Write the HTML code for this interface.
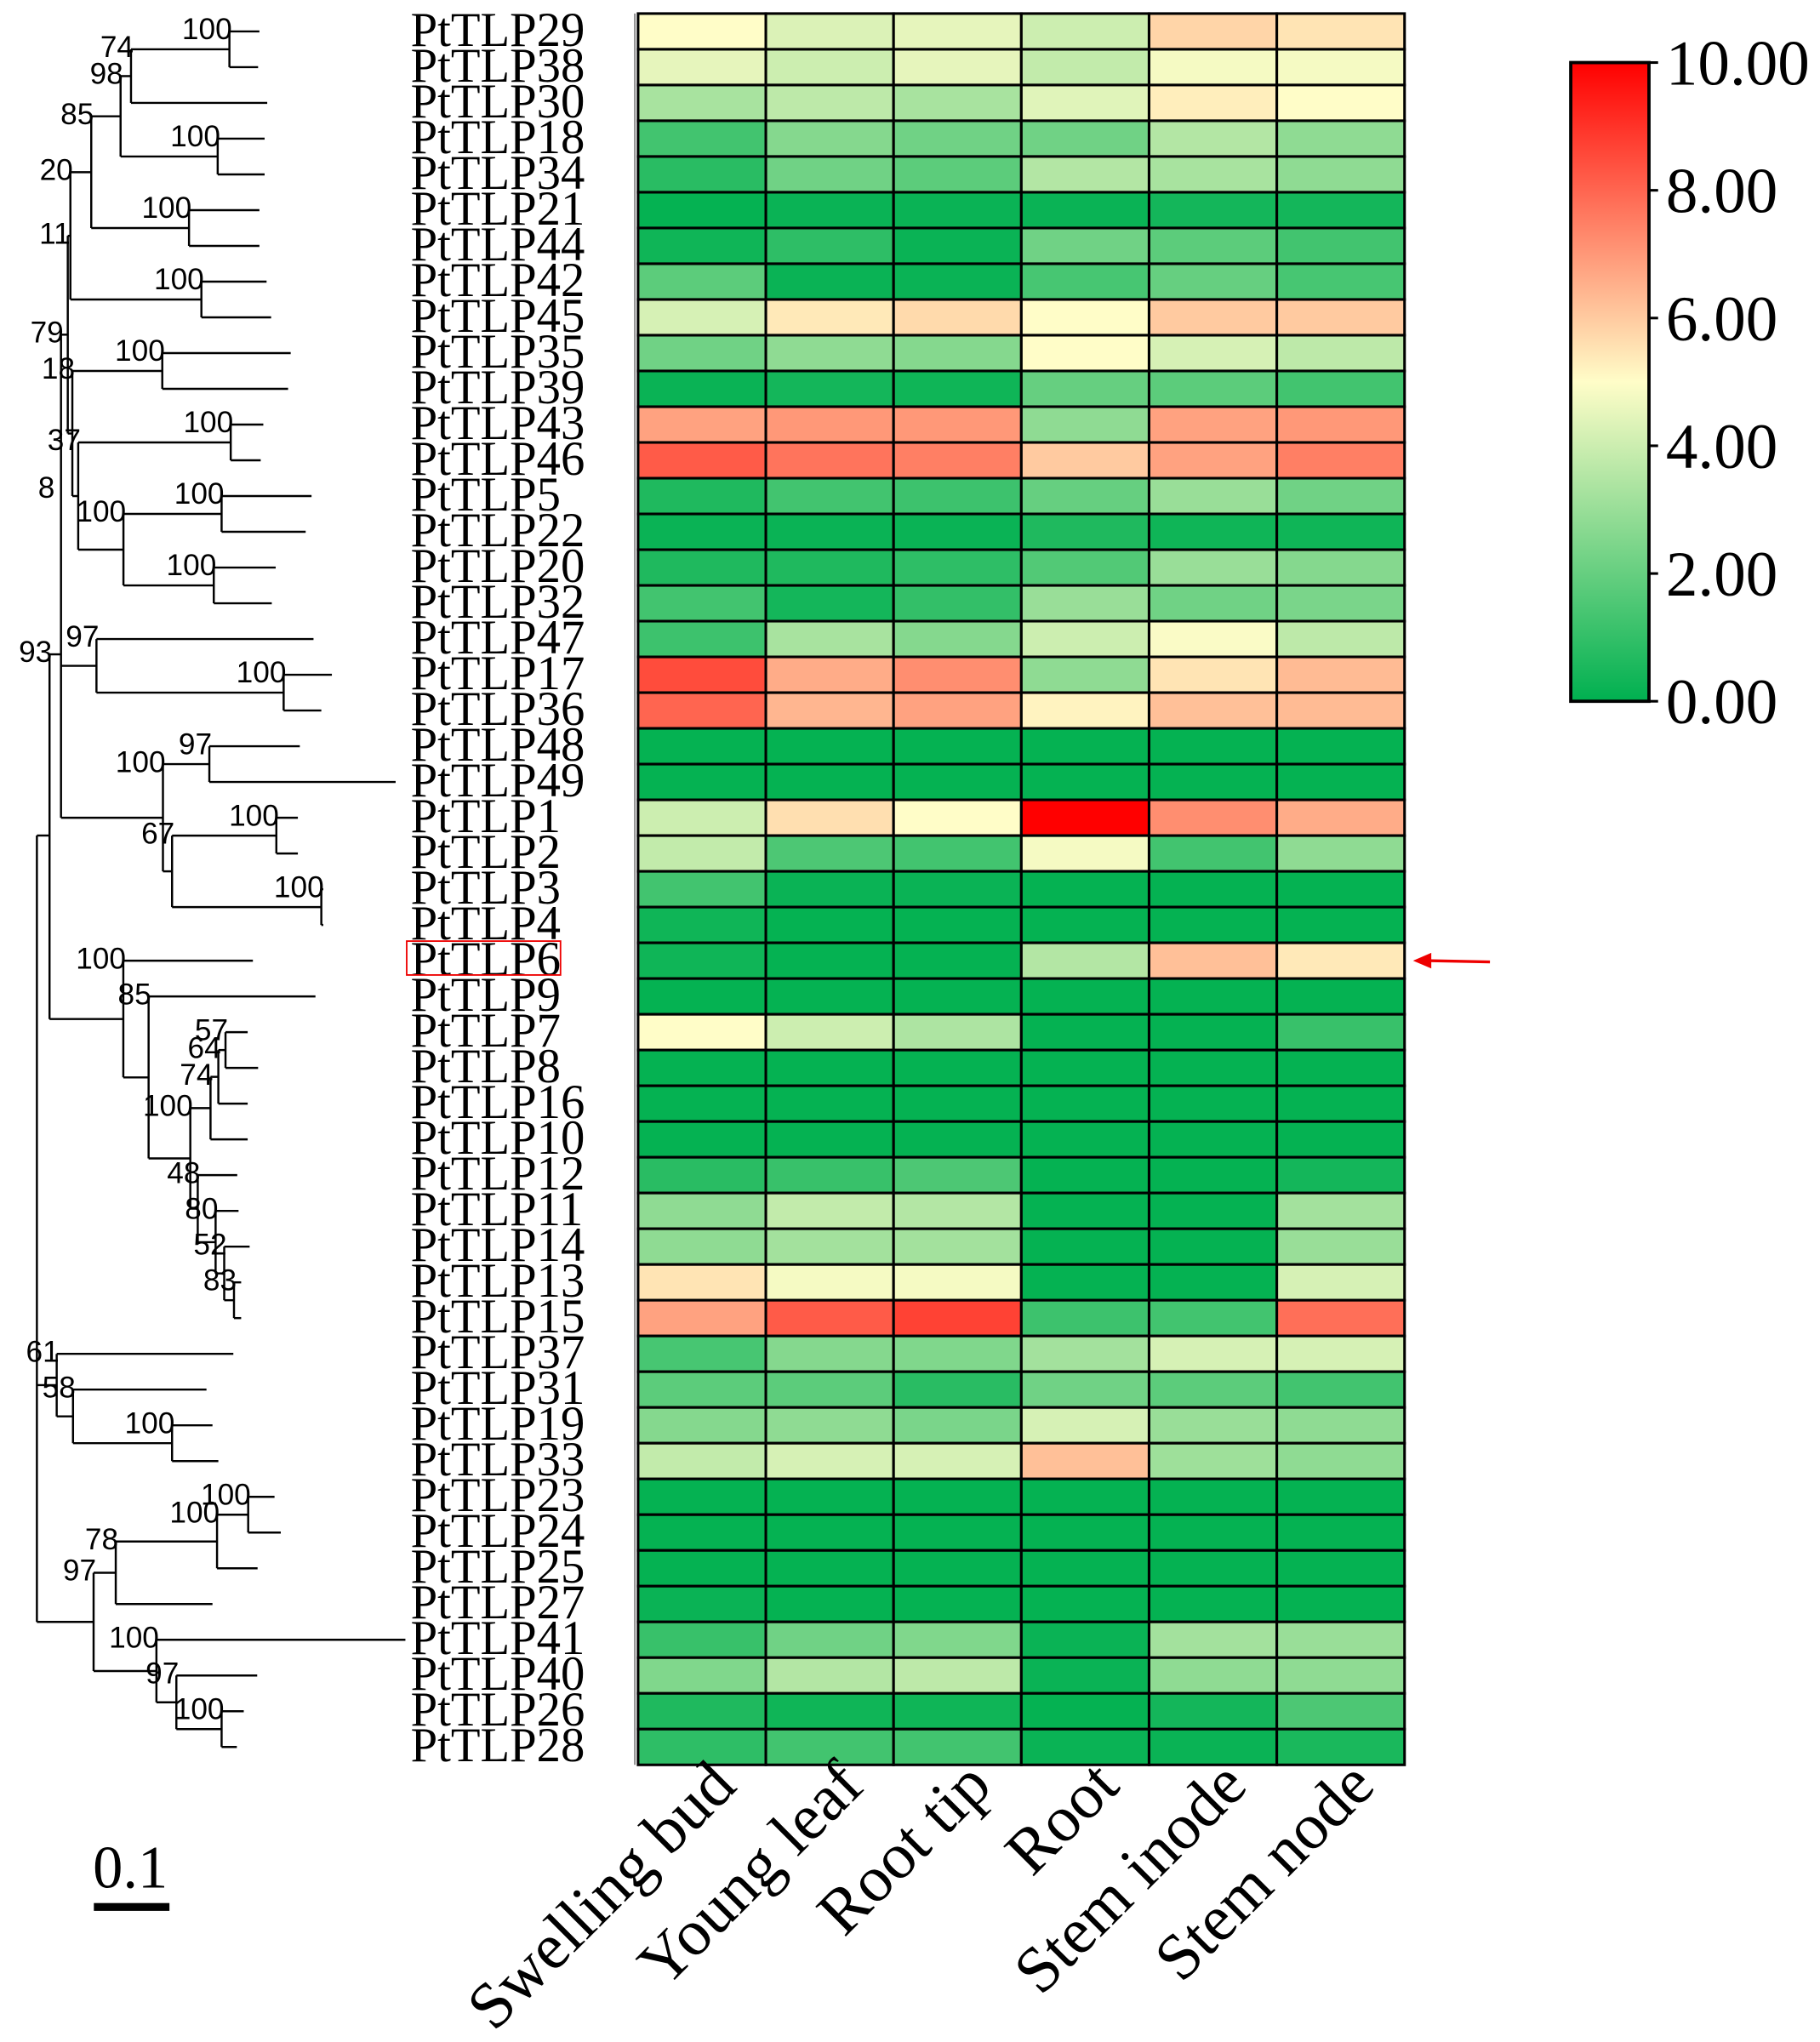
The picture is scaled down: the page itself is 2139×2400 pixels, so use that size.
<!DOCTYPE html>
<html><head><meta charset="utf-8"><style>html,body{margin:0;padding:0;background:#fff}svg{display:block}</style></head>
<body>
<svg id="chart" xmlns="http://www.w3.org/2000/svg" width="2139" height="2400" viewBox="0 0 1396.2 1566.6" preserveAspectRatio="none">
<defs><linearGradient id="cbgrad" x1="0" y1="1" x2="0" y2="0"><stop offset="0" stop-color="#00b050"/><stop offset="0.5" stop-color="#fffdc8"/><stop offset="1" stop-color="#ff0000"/></linearGradient></defs>
<g id="tree"></g>
<g id="labels"></g>
<g id="heat"></g>
<g id="xlab"></g>
<g id="cbar"></g>
<g>
<text x="100" y="1448" font-family="Liberation Serif, serif" font-size="46" text-anchor="middle">0.1</text>
<rect x="72" y="1460" width="58" height="6" fill="#000"/>
</g>
<rect x="312" y="722" width="118" height="26" fill="none" stroke="#e00" stroke-width="1.2"/>
<g>
<line x1="1143" y1="738" x2="1095" y2="737" stroke="#e00" stroke-width="2.2"/>
<polygon points="1084,737 1098,731 1098,743" fill="#e00"/>
</g>
</svg>
<script>
const genes = ["PtTLP29","PtTLP38","PtTLP30","PtTLP18","PtTLP34","PtTLP21","PtTLP44","PtTLP42","PtTLP45","PtTLP35","PtTLP39","PtTLP43","PtTLP46","PtTLP5","PtTLP22","PtTLP20","PtTLP32","PtTLP47","PtTLP17","PtTLP36","PtTLP48","PtTLP49","PtTLP1","PtTLP2","PtTLP3","PtTLP4","PtTLP6","PtTLP9","PtTLP7","PtTLP8","PtTLP16","PtTLP10","PtTLP12","PtTLP11","PtTLP14","PtTLP13","PtTLP15","PtTLP37","PtTLP31","PtTLP19","PtTLP33","PtTLP23","PtTLP24","PtTLP25","PtTLP27","PtTLP41","PtTLP40","PtTLP26","PtTLP28"];
const tissues = ["Swelling bud","Young leaf","Root tip","Root","Stem inode","Stem node"];
const colorTicks = [0,2,4,6,8,10];
const tickLabels = ["0.00","2.00","4.00","6.00","8.00","10.00"];
const values = [
[5,4.3,4.5,4,5.8,5.5],[4.5,4,4.5,3.8,4.8,4.8],[3.3,3.7,3.3,4.4,5.3,5],[1.3,2.6,2.2,2.2,3.5,2.8],[0.8,2.2,1.8,3.5,3.3,2.8],
[0.1,0.2,0.2,0.2,0.4,0.4],[0.3,0.9,0.2,2.2,1.8,1.3],[1.8,0.2,0.2,1.4,2,1.4],[4.2,5.4,5.7,5,6,6],[2.2,2.8,2.6,5,4.2,3.7],
[0.2,0.4,0.3,2,1.8,1.3],[6.8,7,7,2.8,6.8,7],[8.2,7.7,7.5,6,6.8,7.5],[0.6,1.3,1.2,2,3,2.2],[0.2,0.2,0.2,0.6,0.3,0.3],
[0.6,0.6,0.9,1.6,3,2.6],[1.3,0.4,1,3,2.2,2.4],[1.2,3.3,2.6,4,4.9,3.7],[8.5,6.6,7.2,2.8,5.5,6.3],[8,6.4,6.8,5.2,6.2,6.3],
[0.1,0.1,0.1,0.1,0.1,0.1],[0.1,0.1,0.1,0.1,0.1,0.1],[4,5.6,5,10,7.2,6.6],[3.8,1.5,1.3,4.8,1.3,2.8],[1.3,0.2,0.2,0.1,0.1,0.1],
[0.3,0.1,0.1,0.1,0.1,0.1],[0.3,0.1,0.1,3.5,6.2,5.4],[0.1,0.1,0.1,0.1,0.1,0.1],[5,4,3.4,0.1,0.1,1.1],[0.1,0.1,0.1,0.1,0.1,0.1],
[0.1,0.1,0.1,0.1,0.1,0.1],[0.1,0.1,0.1,0.1,0.1,0.1],[0.8,1.1,1.5,0.1,0.1,0.4],[2.8,3.8,3.5,0.1,0.1,3.2],[2.8,3.2,3.2,0.1,0.1,3],
[5.5,4.8,4.8,0.1,0.1,4.2],[6.8,8.2,8.7,1.2,1.3,7.8],[1.4,2.6,2.5,3.2,4.2,4.2],[1.8,1.8,0.8,2.2,1.8,1.3],[2.6,2.8,2.4,4.2,3,2.8],
[3.8,4.2,4.2,6.2,3.1,2.8],[0.1,0.1,0.1,0.1,0.1,0.1],[0.1,0.1,0.1,0.1,0.1,0.1],[0.1,0.1,0.1,0.1,0.1,0.1],[0.2,0.1,0.1,0.1,0.1,0.1],
[1.1,2.2,2.5,0.2,3.2,3],[2.5,3.5,3.7,0.2,2.8,2.8],[0.6,0.3,0.3,0.1,0.4,1.5],[0.9,1.3,1.3,0.2,0.2,0.5]];

const NS="http://www.w3.org/2000/svg";
function mk(tag,attrs,parent){const e=document.createElementNS(NS,tag);for(const k in attrs)e.setAttribute(k,attrs[k]);parent.appendChild(e);return e;}
const HX=489.5, HY=10.4, CW=98, RH=27.42;
function xPos(c){return HX+CW*c;}
function yPos(r){return HY+RH*r;}
function rowCenter(r){return yPos(r)+RH/2;}
const vMin=0,vMax=10;
function color(v){
  const t=Math.max(0,Math.min(1,(v-vMin)/(vMax-vMin)));
  const s=[[0,176,80],[255,253,200],[255,0,0]];
  let a,b,u; if(t<0.5){a=s[0];b=s[1];u=t/0.5;}else{a=s[1];b=s[2];u=(t-0.5)/0.5;}
  return `rgb(${Math.round(a[0]+(b[0]-a[0])*u)},${Math.round(a[1]+(b[1]-a[1])*u)},${Math.round(a[2]+(b[2]-a[2])*u)})`;
}
const heat=document.getElementById('heat');
const gl=mk('line',{x1:487,y1:HY,x2:487,y2:yPos(genes.length),stroke:'#888','stroke-width':1.2},heat);


values.forEach((row,r)=>{row.forEach((v,c)=>{
  const cell=mk('rect',{x:xPos(c),y:yPos(r),width:CW,height:RH,fill:color(v),stroke:'#000','stroke-width':2},heat);
  
  
});});
const lab=document.getElementById('labels');
genes.forEach((g,r)=>{
  const t=mk('text',{x:315,y:rowCenter(r)+11,'font-family':'Liberation Serif, serif','font-size':37},lab);
  t.textContent=g;
  
  
});
const xl=document.getElementById('xlab');
tissues.forEach((ts,c)=>{
  const cx=xPos(c)+CW/2+28, cy=1372;
  const t=mk('text',{x:cx,y:cy,'font-family':'Liberation Serif, serif','font-size':50,'text-anchor':'end',transform:`rotate(-45 ${cx} ${cy})`},xl);
  t.textContent=ts;
  
  
});
const cb=document.getElementById('cbar');
const CB={x:1205,y:48,w:60,h:490};
function cbY(v){return CB.y+CB.h*(1-(v-vMin)/(vMax-vMin));}
const cbr=mk('rect',{x:CB.x,y:CB.y,width:CB.w,height:CB.h,fill:'url(#cbgrad)',stroke:'#000','stroke-width':2.5},cb);


colorTicks.forEach((v,i)=>{
  const y=cbY(v);
  const tk=mk('line',{x1:CB.x+CB.w,y1:y,x2:CB.x+CB.w+7,y2:y,stroke:'#000','stroke-width':2},cb);
  
  
  const t=mk('text',{x:1278,y:y+17,'font-family':'Liberation Serif, serif','font-size':49},cb);
  t.textContent=tickLabels[i];
  
  
});
let leafIdx=0;
function L(tip){return {leaf:true,tip:tip};}
function N(x,label,children,y){return {x:x,label:label,children:children,fixedY:y};}
const tree = N(28.3,'',[
 N(38,'93',[
  N(46.8,'79',[
   N(52,'11',[
     N(54,'20',[
       N(70,'85',[
         N(92.5,'98',[
           N(100.5,'74',[ N(176,'100',[L(199),L(198)]), L(205) ]),
           N(167,'100',[L(203),L(203)])
         ]),
         N(145,'100',[L(199),L(199)])
       ]),
       N(154.5,'100',[L(204.5),L(208)])
     ]),
     N(55.5,'18',[
       N(124.5,'100',[L(223),L(221)]),
       N(60,'37',[
         N(177,'100',[L(202),L(200)]),
         N(94.7,'100',[ N(170,'100',[L(239),L(234.5)]), N(164,'100',[L(211.5),L(208.5)]) ])
       ])
     ])
   ]),
   N(74,'97',[L(240.5), N(217.6,'100',[L(254.6),L(246.5)])]),
   N(125,'100',[ N(160.6,'97',[L(230),L(303.5)]), N(132,'67',[ N(212,'100',[L(228.5),L(228.5)]), N(246.5,'100',[L(248),L(248)]) ]) ])
  ],502),
  N(94.6,'100',[L(194), N(114,'85',[L(242), N(146,'100',[ N(161.5,'74',[ N(167.5,'64',[ N(173,'57',[L(190),L(198)]), L(190)]), L(190)]), N(151.7,'48',[L(182), N(165.4,'80',[L(183), N(172,'52',[L(191.5), N(179.5,'83',[L(185),L(185)])])])]) ])])])
 ],641),
 N(43.5,'61',[L(179), N(56,'58',[L(158.4), N(132,'100',[L(163),L(167.5)])])]),
 N(71.8,'97',[ N(88.8,'78',[ N(166.5,'100',[ N(190.4,'100',[L(210.6),L(215.4)]), L(197.6)]), L(163)]), N(120,'100',[L(311), N(135.3,'97',[L(197.3), N(170,'100',[L(187),L(181.7)])])]) ])
]);
function layout(n){
  if(n.leaf){n.row=leafIdx++;n.y=rowCenter(n.row);n.x=n.tip;return;}
  n.children.forEach(layout);
  n.y=(n.fixedY!==undefined)?n.fixedY:(n.children[0].y+n.children[n.children.length-1].y)/2;
}
layout(tree);
const tg=document.getElementById('tree');
function draw(n){
  if(n.leaf)return;
  const ys=n.children.map(c=>c.y).concat([n.y]);
  const v=mk('line',{x1:n.x,y1:Math.min(...ys),x2:n.x,y2:Math.max(...ys),stroke:'#000','stroke-width':1.6},tg);
  
  
  n.children.forEach(ch=>{
    const h=mk('line',{x1:n.x,y1:ch.y,x2:ch.x,y2:ch.y,stroke:'#000','stroke-width':1.6},tg);
    
    
    draw(ch);
  });
  if(n.label){
    const t=mk('text',{x:n.x+2,y:n.children[0].y+6,'font-family':'Liberation Sans, sans-serif','font-size':23,'text-anchor':'end'},tg);
    t.textContent=n.label;
    
    
  }
}
draw(tree);
const t8=mk('text',{x:42,y:382,'font-family':'Liberation Sans, sans-serif','font-size':23,'text-anchor':'end'},tg);
t8.textContent='8';


</script>
</body></html>
